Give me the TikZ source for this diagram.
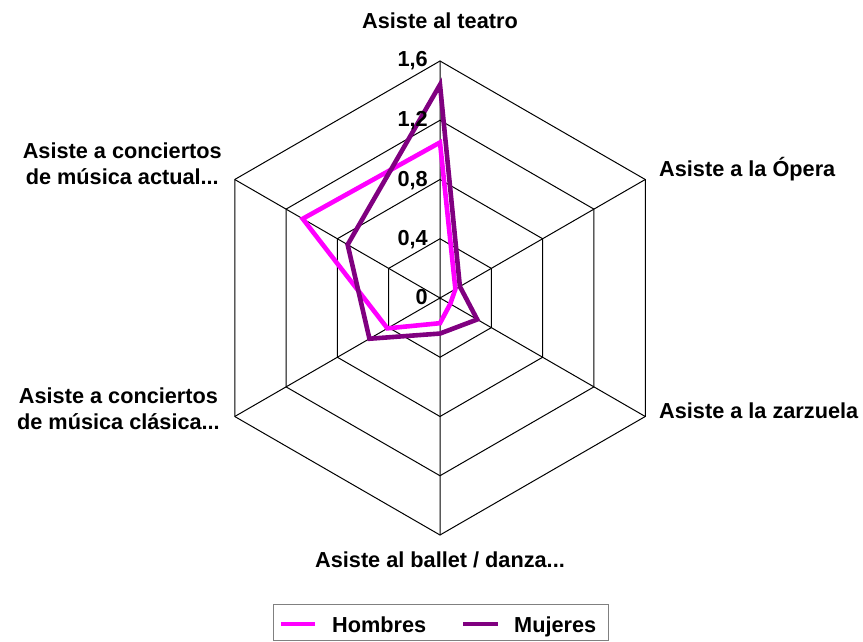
\documentclass[tikz,border=0pt]{standalone}
\usepackage{fontspec}
\setmainfont{Liberation Sans}
\usepackage{xcolor}
\definecolor{hombres}{RGB}{255,0,255}
\definecolor{mujeres}{RGB}{128,0,128}

\begin{document}
\begin{tikzpicture}[x=1pt,y=-1pt,
  etiq/.style={font=\fontsize{21.7}{26}\selectfont\bfseries, inner sep=0pt},
  rejilla/.style={black, line width=1pt},
  serie/.style={line width=4.6pt}]
\useasboundingbox (0,0) rectangle (863,642);
% rejilla hexagonal
\begin{scope}[shift={(440,298)},yscale=-1,scale=148.125]
    \draw[rejilla] (90:1.6)--(30:1.6)--(-30:1.6)--(-90:1.6)--(210:1.6)--(150:1.6)--cycle;
    \draw[rejilla] (90:1.2)--(30:1.2)--(-30:1.2)--(-90:1.2)--(210:1.2)--(150:1.2)--cycle;
    \draw[rejilla] (90:0.8)--(30:0.8)--(-30:0.8)--(-90:0.8)--(210:0.8)--(150:0.8)--cycle;
    \draw[rejilla] (90:0.4)--(30:0.4)--(-30:0.4)--(-90:0.4)--(210:0.4)--(150:0.4)--cycle;
    \draw[rejilla] (0,0)--(90:1.6) (0,0)--(30:1.6) (0,0)--(-30:1.6)
                   (0,0)--(-90:1.6) (0,0)--(210:1.6) (0,0)--(150:1.6);
    % series
    \draw[serie, hombres] (90:1.05)--(30:0.12)--(-30:0.08)--(-90:0.17)--(210:0.41)--(150:1.07)--cycle;
    \draw[serie, mujeres] (90:1.44)--(30:0.155)--(-30:0.29)--(-90:0.24)--(210:0.55)--(150:0.72)--cycle;
\end{scope}
% valores del eje
\node[etiq, anchor=base east] (v0) at (428,304) {0};
\node[etiq, anchor=base east] (v04) at (428,245) {0,4};
\node[etiq, anchor=base east] (v08) at (428,186) {0,8};
\node[etiq, anchor=base east] (v12) at (428,126) {1,2};
\node[etiq, anchor=base east] (v16) at (428,67) {1,6};
% categorias
\node[etiq, anchor=base] (teatro) at (440,29) {Asiste al teatro};
\node[etiq, anchor=base west] (opera) at (659,176) {Asiste a la Ópera};
\node[etiq, anchor=base west] (zarzuela) at (659,418) {Asiste a la zarzuela};
\node[etiq, anchor=base] (ballet) at (440,567) {Asiste al ballet / danza...};
\node[etiq, align=center, anchor=east] (actual) at (222,164) {Asiste a conciertos\\de música actual...};
\node[etiq, align=center, anchor=east] (clasica) at (220,409) {Asiste a conciertos\\de música clásica...};
% leyenda
\draw[gray, line width=1pt] (273,604) rectangle (608,640);
\draw[serie, hombres] (281,624)--(315,624);
\node[etiq, anchor=base west] (lh) at (332,632) {Hombres};
\draw[serie, mujeres] (463,624)--(498,624);
\node[etiq, anchor=base west] (lm) at (514,632) {Mujeres};
\end{tikzpicture}
\end{document}
